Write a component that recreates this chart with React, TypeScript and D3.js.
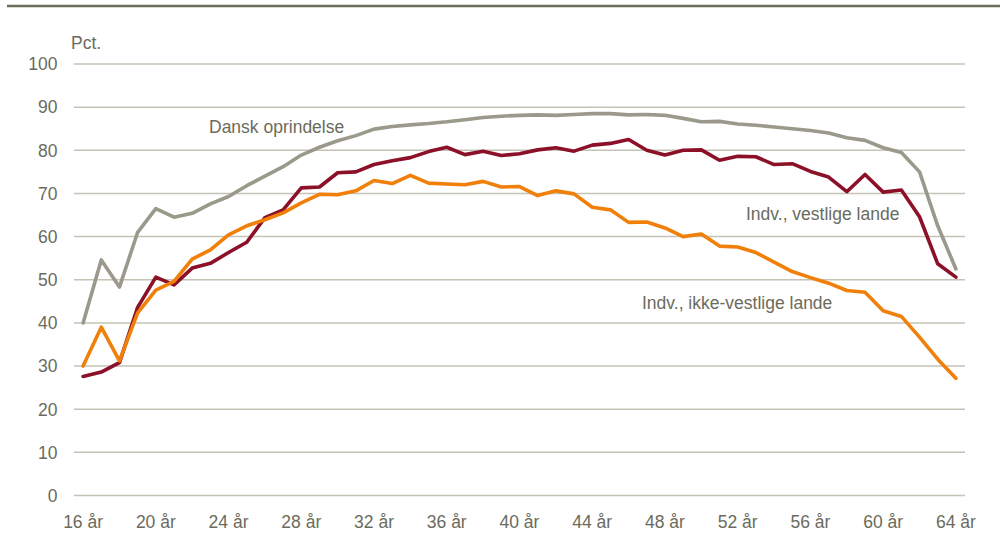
import React from 'react'
import { scaleLinear, scalePoint, line } from 'd3'

// ages on the x axis (16-64 år)
const ages: number[] = [
  16, 17, 18, 19, 20, 21, 22, 23, 24, 25, 26, 27, 28, 29, 30, 31, 32,
  33, 34, 35, 36, 37, 38, 39, 40, 41, 42, 43, 44, 45, 46, 47, 48,
  49, 50, 51, 52, 53, 54, 55, 56, 57, 58, 59, 60, 61, 62, 63, 64,
]
const xTickAges: number[] = [16, 20, 24, 28, 32, 36, 40, 44, 48, 52, 56, 60, 64]
const yTicks: number[] = [0, 10, 20, 30, 40, 50, 60, 70, 80, 90, 100]

const dansk: number[] = [
  40.0, 54.6, 48.3, 61.0, 66.5, 64.5, 65.4, 67.6, 69.3, 71.8, 74.0, 76.2, 78.9, 80.7, 82.2, 83.4, 84.9,
  85.5, 85.9, 86.2, 86.6, 87.1, 87.6, 87.9, 88.1, 88.2, 88.1, 88.3, 88.5, 88.5, 88.2, 88.3, 88.1,
  87.4, 86.6, 86.7, 86.1, 85.8, 85.4, 85.0, 84.6, 84.0, 82.9, 82.3, 80.6, 79.5, 75.0, 62.5, 52.5,
]
const vestlige: number[] = [
  27.6, 28.6, 30.8, 43.6, 50.6, 48.8, 52.7, 53.8, 56.3, 58.7, 64.4, 66.2, 71.3, 71.5, 74.8, 75.0, 76.7,
  77.6, 78.3, 79.7, 80.7, 79.0, 79.8, 78.8, 79.2, 80.1, 80.6, 79.8, 81.2, 81.6, 82.5, 80.0, 78.9,
  80.0, 80.1, 77.7, 78.6, 78.5, 76.7, 76.9, 75.1, 73.8, 70.4, 74.4, 70.3, 70.8, 64.6, 53.7, 50.6,
]
const ikkeVestlige: number[] = [
  30.0, 39.0, 31.2, 42.3, 47.6, 49.6, 54.8, 56.9, 60.4, 62.5, 63.9, 65.5, 67.8, 69.8, 69.7, 70.6, 73.0,
  72.3, 74.2, 72.4, 72.2, 72.0, 72.8, 71.5, 71.6, 69.5, 70.6, 69.9, 66.8, 66.2, 63.3, 63.4, 62.0,
  60.0, 60.6, 57.8, 57.6, 56.3, 54.1, 51.9, 50.5, 49.2, 47.5, 47.1, 42.8, 41.5, 36.7, 31.6, 27.2,
]

const series = [
  { name: 'Dansk oprindelse', values: dansk, color: '#9a998b' },
  { name: 'Indv., vestlige lande', values: vestlige, color: '#8b1028' },
  { name: 'Indv., ikke-vestlige lande', values: ikkeVestlige, color: '#f0800a' },
]

const W = 1000, H = 542
const plot = { left: 74, right: 965, top: 64, bottom: 495.5 }
const textColor = '#6b6b5d'
const font = '"Liberation Sans", Arial, sans-serif'
const fs = 17.5

export default function App() {
  const x = scalePoint<number>().domain(ages).range([plot.left, plot.right]).padding(0.5)
  const y = scaleLinear().domain([0, 100]).range([plot.bottom, plot.top])

  const gen = line<number>()
    .x((_, i) => x(ages[i]) ?? 0)
    .y(d => y(d))

  return (
    <svg width={W} height={H} style={{ position: 'absolute', left: 0, top: 0 }}
      fontFamily={font} fontSize={fs} fill={textColor}>
      <rect width={W} height={H} fill="#fff" />
      {/* top rule */}
      <line x1={7} x2={W} y1={6} y2={6} stroke="#6e6d5a" strokeWidth={2.5} />

      {yTicks.map(t => (
        <g key={t}>
          <line x1={plot.left} x2={plot.right} y1={y(t)} y2={y(t)} stroke="#c4c3b6" strokeWidth={1.5} />
          <text x={57.5} y={y(t)} dy="0.36em" textAnchor="end">{t}</text>
        </g>
      ))}
      <text x={71} y={49}>Pct.</text>

      {xTickAges.map(a => (
        <text key={a} x={x(a)} y={528} textAnchor="middle">{`${a} år`}</text>
      ))}

      {series.map(s => (
        <path key={s.name} d={gen(s.values) ?? ''} fill="none" stroke={s.color}
          strokeWidth={3.6} strokeLinejoin="round" strokeLinecap="round" />
      ))}

      <text x={209} y={132.5}>Dansk oprindelse</text>
      <text x={746} y={219.5}>Indv., vestlige lande</text>
      <text x={642} y={309}>Indv., ikke-vestlige lande</text>
    </svg>
  )
}
